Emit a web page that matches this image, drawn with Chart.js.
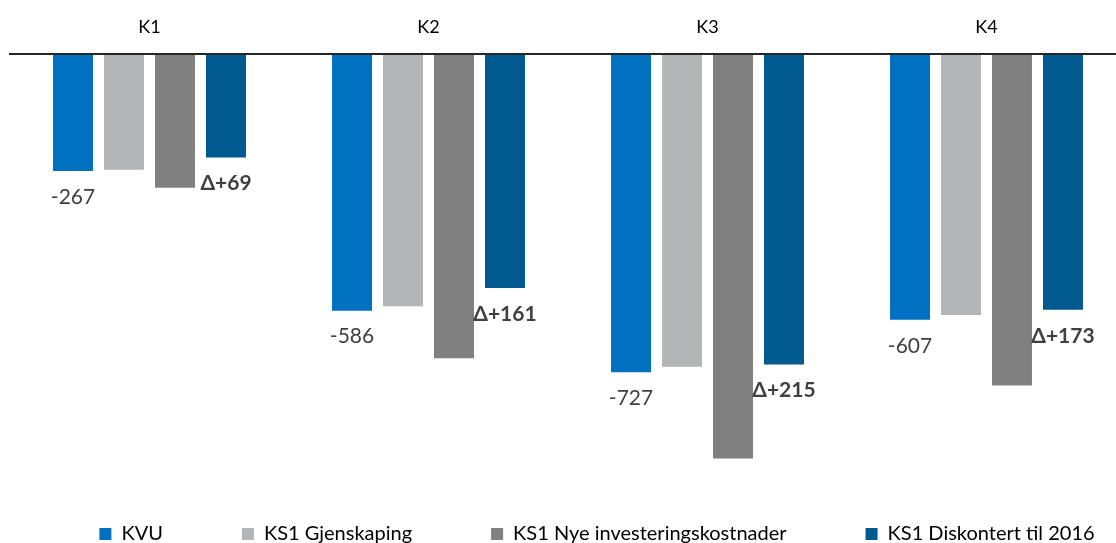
<!DOCTYPE html>
<html>
<head>
<meta charset="utf-8">
<script src="https://cdn.jsdelivr.net/npm/chart.js@4.4.1/dist/chart.umd.min.js"></script>
<style>
  html, body { margin: 0; padding: 0; overflow: hidden; background: #fff; width: 1116px; height: 543px; }
  #wrap { position: relative; width: 1184px; height: 554px; }
</style>
</head>
<body>
<div id="wrap"><canvas id="c" width="1184" height="554"></canvas></div>
<script>
// Cost per alternative (MNOK), one value per concept K1–K4
const categories = ['K1', 'K2', 'K3', 'K4'];
const kvu = [-267, -586, -727, -607];
const ks1Gjenskaping = [-264, -576, -714, -596];
const ks1NyeInvestering = [-305, -695, -924, -757];
const ks1Diskontert = [-236, -534, -709, -584];
const seriesNames = ['KVU', 'KS1 Gjenskaping', 'KS1 Nye investeringskostnader', 'KS1 Diskontert til 2016'];

const seriesColors = ['#0070C0', '#B4B5B7', '#808080', '#005A8F'];
const FONT = 'Lato';

// Value labels: KVU amount under the blue bar, change (discounted vs. new investment) under the dark bar
const barLabels = {
  id: 'barLabels',
  afterDatasetsDraw(chart) {
    const ctx = chart.ctx;
    const kvuMeta = chart.getDatasetMeta(0);
    const diskMeta = chart.getDatasetMeta(3);
    ctx.save();
    ctx.textAlign = 'center';
    ctx.textBaseline = 'middle';
    ctx.fillStyle = '#404040';
    ctx.font = '21px ' + FONT;
    kvuMeta.data.forEach((bar, i) => {
      ctx.fillText(String(kvu[i]), bar.x, bar.y + 26);
    });
    ctx.font = 'bold 21px ' + FONT;
    diskMeta.data.forEach((bar, i) => {
      const d = ks1Diskontert[i] - ks1NyeInvestering[i];
      ctx.fillText('\u0394+' + d, bar.x, bar.y + 26);
    });
    ctx.restore();
  }
};

const seriesData = [kvu, ks1Gjenskaping, ks1NyeInvestering, ks1Diskontert];

new Chart(document.getElementById('c'), {
  type: 'bar',
  data: {
    labels: categories,
    datasets: seriesData.map((d, i) => ({
      label: seriesNames[i],
      data: d,
      backgroundColor: seriesColors[i],
      borderWidth: 0
    }))
  },
  options: {
    responsive: false,
    animation: false,
    devicePixelRatio: 1,
    layout: { padding: { left: 10, right: 0, top: 0, bottom: 0 } },
    datasets: { bar: { categoryPercentage: 0.731, barPercentage: 0.784, clip: false } },
    scales: {
      x: {
        position: 'top',
        grid: { display: false, drawTicks: false },
        border: { display: true, color: '#262626', width: 2, z: 1 },
        ticks: { color: '#000', font: { family: FONT, size: 18 }, padding: 16.3 }
      },
      y: {
        position: 'right',
        min: -893,
        max: 0,
        grid: { display: false, drawTicks: false },
        border: { display: false },
        ticks: { display: false },
        afterFit(scale) { scale.width = 58; }
      }
    },
    plugins: {
      legend: {
        position: 'bottom',
        labels: {
          boxWidth: 12,
          boxHeight: 12,
          padding: 79,
          color: '#000',
          font: { family: FONT, size: 20 }
        }
      },
      tooltip: { enabled: false }
    }
  },
  plugins: [barLabels]
});
</script>
</body>
</html>
